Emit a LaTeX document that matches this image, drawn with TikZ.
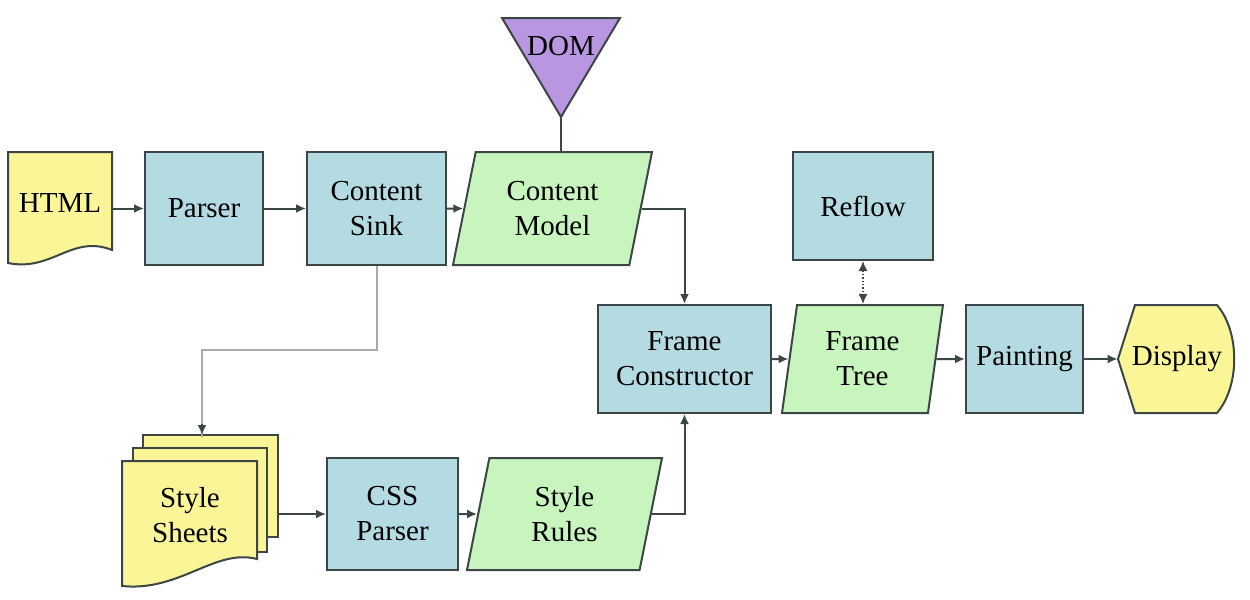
\documentclass[tikz,border=0pt]{standalone}
\usepackage{fontspec}
\setmainfont{Liberation Serif}
\newfontfamily\tmsfont{Liberation Serif}
\usetikzlibrary{shapes.geometric,arrows.meta}
\definecolor{boxblue}{RGB}{180,218,226}
\definecolor{boxgreen}{RGB}{200,245,190}
\definecolor{boxyellow}{RGB}{250,245,150}
\definecolor{boxpurple}{RGB}{185,150,225}
\definecolor{edge}{RGB}{60,70,70}
\definecolor{lightline}{RGB}{165,172,172}
\tikzset{
  lbl/.style={font=\tmsfont\fontsize{14.5pt}{17.5pt}\selectfont, align=center, inner sep=0pt},
  proc/.style={lbl, draw=edge, line width=1pt, fill=boxblue, rectangle},
  data/.style={lbl, draw=edge, line width=1pt, fill=boxgreen, trapezium, trapezium stretches body},
  shapeline/.style={draw=edge, line width=1pt},
  conn/.style={draw=edge, line width=1pt, -{Latex[length=5pt,width=4.5pt]}},
}
\begin{document}
\begin{tikzpicture}[x=0.5pt,y=-0.5pt]
\useasboundingbox (0,0) rectangle (1250,600);
% HTML document
\path[shapeline, fill=boxyellow] (8,152) -- (112,152) -- (112,250) .. controls (72,234) and (52,272) .. (8,263) -- cycle;
\node[lbl, minimum width=52pt, minimum height=50pt] (html) at (60,203) {HTML};
% processes
\node[proc, minimum width=59pt, minimum height=56.5pt] (parser) at (204,208.5) {Parser};
\node[proc, minimum width=69.5pt, minimum height=56.5pt] (sink) at (376.5,208.5) {Content\\Sink};
\node[data, trapezium left angle=67.4, trapezium right angle=112.6, minimum width=99.5pt, minimum height=56.5pt] (cm) at (552.5,208.5) {Content\\Model};
% DOM
\path[shapeline, fill=boxpurple] (502,18) -- (620,18) -- (561,117) -- cycle;
\coordinate (domapex) at (561,117);
\node[lbl] (dom) at (561,46) {DOM};
\draw[shapeline] (domapex) -- (domapex |- cm.north);
% right part
\node[proc, minimum width=86.5pt, minimum height=54pt] (fc) at (684.5,359) {Frame\\Constructor};
\node[data, trapezium left angle=74.5, trapezium right angle=105.5, minimum width=80.5pt, minimum height=54pt] (ft) at (862.5,359) {Frame\\Tree};
\node[proc, minimum width=70pt, minimum height=54pt] (reflow) at (863,206) {Reflow};
\node[proc, minimum width=58.5pt, minimum height=54pt] (paint) at (1024.5,359) {Painting};
\path[shapeline, fill=boxyellow] (1135,305) -- (1217,305) .. controls (1240,332) and (1240,386) .. (1217,413) -- (1135,413) -- (1118,359) -- cycle;
\node[lbl, minimum width=59pt, minimum height=54pt] (disp) at (1177,359) {Display};
% style sheets
\path[shapeline, fill=boxyellow] (143,435) rectangle (278,537);
\node[minimum width=67.5pt, minimum height=51pt, inner sep=0pt] (ssback) at (210.5,486) {};
\path[shapeline, fill=boxyellow] (133,448) rectangle (267,552);
\path[shapeline, fill=boxyellow] (122,461) -- (257,461) -- (257,559) .. controls (215,548) and (180,592) .. (122,586) -- cycle;
\node[lbl] (ss) at (190,515) {Style\\Sheets};
\coordinate (sstop) at (202,435);
\node[proc, minimum width=65.5pt, minimum height=56pt] (css) at (392.5,514) {CSS\\Parser};
\node[data, trapezium left angle=68, trapezium right angle=112, minimum width=97.5pt, minimum height=56pt] (sr) at (564.5,514) {Style\\Rules};
% connectors
\draw[conn] (parser.west -| html.east) -- (parser.west);
\draw[conn] (parser.east) -- (sink.west);
\draw[conn] (sink.east) -- (cm.west);
\draw[conn] (cm.east) -| (fc.north);
\draw[conn] (sr.east) -| (fc.south);
\draw[conn] (css.west -| ssback.east) -- (css.west);
\draw[conn] (css.east) -- (sr.west);
\draw[conn] (fc.east) -- (ft.west);
\draw[conn] (ft.east) -- (paint.west);
\draw[conn] (paint.east) -- (disp.west);
\draw[draw=edge, line width=0.7pt, densely dotted, {Latex[length=5pt,width=4.5pt]}-{Latex[length=5pt,width=4.5pt]}] (reflow.south) -- (reflow.south |- ft.north);
\draw[draw=lightline, line width=1pt] (sink.south) |- (sstop |- 0,350) -- ([yshift=-1pt]sstop);
\draw[conn] ([yshift=-2pt]sstop |- 0,420) -- (sstop);
\end{tikzpicture}
\end{document}
